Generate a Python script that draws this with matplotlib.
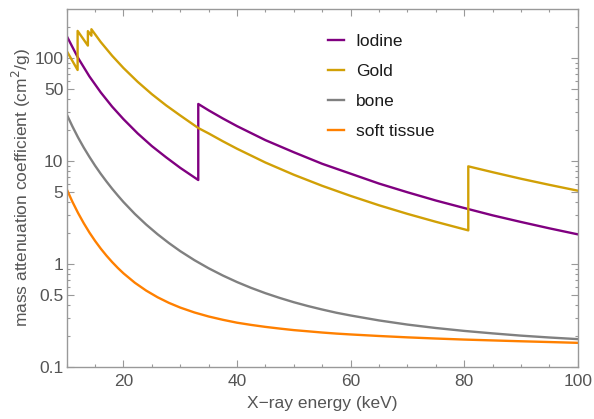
import numpy as np
import matplotlib
matplotlib.use("Agg")
import matplotlib.pyplot as plt
from matplotlib.ticker import FixedLocator, NullFormatter

plt.rcParams['font.family'] = ['Liberation Sans', 'DejaVu Sans']

# energies (keV); a repeated value is an absorption edge
iodine_e = [10, 12, 14, 16, 18, 20, 22.5, 25, 27.5, 30, 33.17,
            33.17, 35, 37.5, 40, 45, 50, 55, 60, 65, 70, 75, 80, 85, 90, 95, 100]
iodine_mu = [165, 101, 66.7, 46.6, 33.9, 25.6, 18.6, 14.0, 10.9, 8.6, 6.55,
             36.0, 31.2, 26.0, 21.9, 16.0, 12.2, 9.42, 7.55, 6.05, 4.98, 4.14, 3.50, 2.97, 2.56, 2.22, 1.94]

gold_e = [10, 11.92, 11.92, 13.73, 13.73, 14.35, 14.35, 16, 18, 20, 22.5, 25, 27.5, 30,
          33.17, 35, 37.5, 40, 45, 50, 55, 60, 65, 70, 75, 80.725,
          80.725, 85, 90, 95, 100]
gold_mu = [118, 77, 185, 133, 184, 166, 192, 144, 106, 80.5, 59.1, 44.8, 34.9, 27.8,
           21.0, 18.6, 15.6, 13.2, 9.69, 7.37, 5.75, 4.59, 3.72, 3.07, 2.57, 2.12,
           8.9, 7.81, 6.74, 5.88, 5.16]

tissue_e = [10, 11, 12, 13, 14, 15, 16, 17, 18, 19, 20, 22, 24, 26, 28, 30,
            32.5, 35, 37.5, 40, 42.5, 45, 47.5, 50, 52.5, 55, 57.5, 60,
            65, 70, 75, 80, 85, 90, 95, 100]
bone_mu = [28.5, 21.8, 17.0, 13.55, 11.0, 9.03, 7.52, 6.34, 5.39, 4.63, 4.00,
           3.065, 2.414, 1.944, 1.596, 1.331, 1.087, 0.907, 0.771, 0.666,
           0.584, 0.519, 0.467, 0.424, 0.389, 0.360, 0.335, 0.315,
           0.282, 0.257, 0.238, 0.223, 0.211, 0.2006, 0.1924, 0.1855]
soft_mu = [5.33, 4.03, 3.13, 2.49, 2.02, 1.673, 1.408, 1.204, 1.043, 0.914, 0.81,
           0.656, 0.550, 0.474, 0.418, 0.376, 0.337, 0.308, 0.286, 0.268,
           0.255, 0.244, 0.235, 0.227, 0.221, 0.215, 0.210, 0.206,
           0.199, 0.193, 0.188, 0.1837, 0.1802, 0.1768, 0.1738, 0.1707]

y_major = [0.1, 0.5, 1, 5, 10, 50, 100]
y_labels = ['0.1', '0.5', '1', '5', '10', '50', '100']

fig = plt.figure(figsize=(5.94, 4.19), dpi=100)
ax = fig.add_axes([0.1123, 0.1248, 0.8603, 0.853])

lw = 1.7
ax.plot(iodine_e, iodine_mu, color='#800080', lw=lw, label='Iodine')
ax.plot(gold_e, gold_mu, color='#D1A006', lw=lw, label='Gold')
ax.plot(tissue_e, bone_mu, color='#808080', lw=lw, label='bone')
ax.plot(tissue_e, soft_mu, color='#FF8000', lw=lw, label='soft tissue')

ax.set_yscale('log')
ax.set_xlim(10, 100)
ax.set_ylim(0.1, 300)

ax.xaxis.set_major_locator(FixedLocator([20, 40, 60, 80, 100]))
ax.xaxis.set_minor_locator(FixedLocator(np.arange(10, 101, 5)))
ax.yaxis.set_major_locator(FixedLocator(y_major))
ax.set_yticklabels(y_labels)
minor_y = [m * d for d in [0.1, 1, 10, 100] for m in range(2, 10) if m != 5 and m * d < 300]
ax.yaxis.set_minor_locator(FixedLocator(minor_y))
ax.yaxis.set_minor_formatter(NullFormatter())

frame_col = '#999999'
for s in ax.spines.values():
    s.set_color(frame_col)
    s.set_linewidth(1.0)
ax.tick_params(which='both', direction='in', top=True, right=True, color=frame_col,
               labelcolor='#555555', labelsize=12.5, width=0.8)
ax.tick_params(which='major', length=5)
ax.tick_params(which='minor', length=2.5)
ax.tick_params(axis='x', which='major', pad=5)
ax.tick_params(axis='y', which='major', pad=2.5)

ax.set_xlabel('X\u2212ray energy (keV)', color='#555555', fontsize=12.5, labelpad=5)
ax.set_ylabel('mass attenuation coefficient (cm$^2$/g)', color='#555555', fontsize=12.5, labelpad=1)

leg = ax.legend(loc='upper left', bbox_to_anchor=(0.4977, 0.951), borderaxespad=0,
                frameon=False, fontsize=12.5, handlelength=0.95, handletextpad=0.65,
                labelspacing=0.86)
for t in leg.get_texts():
    t.set_color('#1a1a1a')

plt.savefig('out.png', dpi=100)
